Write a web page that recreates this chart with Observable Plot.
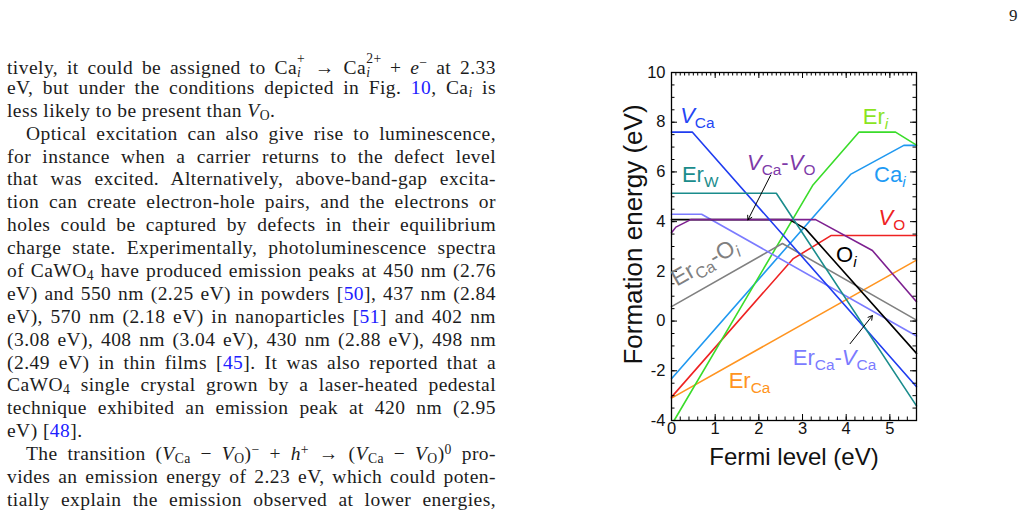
<!DOCTYPE html>
<html>
<head>
<meta charset="utf-8">
<script src="https://cdn.jsdelivr.net/npm/d3@7"></script>
<script src="https://cdn.jsdelivr.net/npm/@observablehq/plot@0.6"></script>
<style>
  html, body { margin: 0; padding: 0; background: #fff; }
  body { width: 1029px; height: 511px; position: relative; overflow: hidden; }
  #pageno { position: absolute; left: 1009px; top: 6px; font: 17px "Liberation Serif", serif; color: #222; }
  #col { position: absolute; left: 7px; top: 54px; width: 489px;
         font: 19.5px/22.9px "Liberation Serif", "Times New Roman", serif; letter-spacing: 0.45px; color: #1c1c1c; }
  #col .l { text-align: justify; text-align-last: justify; height: 22.9px; white-space: nowrap; }
  #col .last { text-align-last: left; }
  #col .ind { text-indent: 19px; }
  #col .r { color: #2020ff; }
  #col sub, #col sup { font-size: 0.7em; line-height: 0; }
  #col sub { vertical-align: -0.25em; }
  #col sup { vertical-align: 0.45em; }
  #col .ss { display: inline-block; position: relative; height: 19.5px; text-indent: 0; }
  #col .ss span { position: absolute; left: 0; font-size: 0.7em; line-height: 1; }
  #col .ss .up { top: -2px; }
  #col .ss .dn { top: 11.5px; }
  #fig { position: absolute; left: 560px; top: 30px; }
</style>
</head>
<body>
<div id="pageno">9</div>
<div id="col">
  <div class="l">tively, it could be assigned to Ca<span class="ss" style="width:9px"><span class="up">+</span><span class="dn"><i>i</i></span></span> → Ca<span class="ss" style="width:15px"><span class="up">2+</span><span class="dn"><i>i</i></span></span> + <i>e</i><sup>−</sup> at 2.33</div>
  <div class="l">eV, but under the conditions depicted in Fig. <span class="r">10</span>, Ca<sub><i>i</i></sub> is</div>
  <div class="l last">less likely to be present than <i>V</i><sub>O</sub>.</div>
  <div class="l ind">Optical excitation can also give rise to luminescence,</div>
  <div class="l">for instance when a carrier returns to the defect level</div>
  <div class="l">that was excited. Alternatively, above-band-gap excita-</div>
  <div class="l">tion can create electron-hole pairs, and the electrons or</div>
  <div class="l">holes could be captured by defects in their equilibrium</div>
  <div class="l">charge state. Experimentally, photoluminescence spectra</div>
  <div class="l">of CaWO<sub>4</sub> have produced emission peaks at 450 nm (2.76</div>
  <div class="l">eV) and 550 nm (2.25 eV) in powders [<span class="r">50</span>], 437 nm (2.84</div>
  <div class="l">eV), 570 nm (2.18 eV) in nanoparticles [<span class="r">51</span>] and 402 nm</div>
  <div class="l">(3.08 eV), 408 nm (3.04 eV), 430 nm (2.88 eV), 498 nm</div>
  <div class="l">(2.49 eV) in thin films [<span class="r">45</span>]. It was also reported that a</div>
  <div class="l">CaWO<sub>4</sub> single crystal grown by a laser-heated pedestal</div>
  <div class="l">technique exhibited an emission peak at 420 nm (2.95</div>
  <div class="l last">eV) [<span class="r">48</span>].</div>
  <div class="l ind">The transition (<i>V</i><sub>Ca</sub> − <i>V</i><sub>O</sub>)<sup>−</sup> + <i>h</i><sup>+</sup> → (<i>V</i><sub>Ca</sub> − <i>V</i><sub>O</sub>)<sup>0</sup> pro-</div>
  <div class="l">vides an emission energy of 2.23 eV, which could poten-</div>
  <div class="l">tially explain the emission observed at lower energies,</div>
</div>
<div id="fig"></div>
<script>
// Axis ticks
const xTicks = [0, 1, 2, 3, 4, 5];
const yTicks = [-4, -2, 0, 2, 4, 6, 8, 10];
const xMinorBottom = d3.range(0, 5.6, 0.2);
const xMinorTop = d3.range(0, 5.6, 0.1);
const yMinor = d3.range(-4, 10.01, 0.5);

// Formation energy (eV) versus Fermi level (eV), one polyline per defect
const fermiErCa = [0, 5.61];
const energyErCa = [-3.1, 2.45];

const fermiCai = [0, 4.10, 5.32, 5.61];
const energyCai = [-2.32, 5.90, 7.07, 7.07];

const fermiVO = [0, 2.78, 3.65, 5.61];
const energyVO = [-3.06, 2.50, 3.44, 3.44];

const fermiEri = [0.06, 3.23, 4.29, 5.13, 5.61];
const energyEri = [-4.0, 5.45, 7.60, 7.60, 7.08];

const fermiErCaOi = [0, 2.54, 5.61];
const energyErCaOi = [0.58, 3.12, 0.04];

const fermiErCaVCa = [0, 0.69, 5.61];
const energyErCaVCa = [4.30, 4.30, -0.60];

const fermiOi = [0, 2.70, 3.07, 5.61];
const energyOi = [4.08, 4.08, 3.71, -1.30];

const fermiVCaVO = [0, 0.10, 0.44, 3.30, 4.60, 5.61];
const energyVCaVO = [3.55, 3.78, 4.08, 4.08, 2.84, 0.78];

const fermiVCa = [0, 0.48, 5.61];
const energyVCa = [7.60, 7.60, -2.64];

const fermiErW = [0, 2.40, 5.61];
const energyErW = [5.14, 5.14, -3.41];

const defectNames = ["Er_Ca", "Ca_i", "V_O", "Er_i", "Er_Ca-O_i", "Er_Ca-V_Ca", "O_i", "V_Ca-V_O", "V_Ca", "Er_W"];
const lineColors  = ["#ff9420", "#1f98f0", "#ee2222", "#3adc2a", "#808080", "#7b7bff", "#000000", "#7d2090", "#1f3cf0", "#1a8c8c"];

const seriesList = [
  ["Er_Ca", fermiErCa, energyErCa],
  ["Ca_i", fermiCai, energyCai],
  ["V_O", fermiVO, energyVO],
  ["Er_i", fermiEri, energyEri],
  ["Er_Ca-O_i", fermiErCaOi, energyErCaOi],
  ["Er_Ca-V_Ca", fermiErCaVCa, energyErCaVCa],
  ["O_i", fermiOi, energyOi],
  ["V_Ca-V_O", fermiVCaVO, energyVCaVO],
  ["V_Ca", fermiVCa, energyVCa],
  ["Er_W", fermiErW, energyErW]
];
const rows = seriesList.flatMap(([name, xs, ys]) => xs.map((x, i) => ({name, E: x, F: ys[i]})));

// Pointer arrows from labels to their curves
const arrowFrom = [[2.27, 5.87], [4.09, -0.91]];
const arrowTo = [[1.75, 4.07], [4.60, 0.22]];
const arrows = arrowFrom.map((a, i) => ({x1: a[0], y1: a[1], x2: arrowTo[i][0], y2: arrowTo[i][1]}));

// Curve labels: [text, kind] where kind "i" italic, "s" subscript, "si" italic subscript
const labels = [
  {E: 0.21, F: 7.93, color: "#2546f5", parts: [["V", "i"], ["Ca", "s"]]},
  {E: 0.25, F: 5.59, color: "#1a8c8c", parts: [["Er", ""], ["W", "s"]]},
  {E: 1.74, F: 6.06, color: "#7e3aa8", parts: [["V", "i"], ["Ca", "s"], ["-", ""], ["V", "i"], ["O", "s"]]},
  {E: 4.39, F: 7.91, color: "#8be41f", parts: [["Er", ""], ["i", "si"]]},
  {E: 4.65, F: 5.59, color: "#1f9bf5", parts: [["Ca", ""], ["i", "si"]]},
  {E: 4.75, F: 3.84, color: "#ee2222", parts: [["V", "i"], ["O", "s"]]},
  {E: 3.78, F: 2.37, color: "#000000", parts: [["O", ""], ["i", "si"]]},
  {E: 0.13, F: 1.36, color: "#808080", slope: 1, parts: [["Er", ""], ["Ca", "s"], ["-O", ""], ["i", "si"]]},
  {E: 2.79, F: -1.79, color: "#7b7bff", parts: [["Er", ""], ["Ca", "s"], ["-", ""], ["V", "i"], ["Ca", "s"]]},
  {E: 1.32, F: -2.72, color: "#ff9420", parts: [["Er", ""], ["Ca", "s"]]}
];

const W = 380, H = 470, mL = 111, mR = 24, mT = 42, mB = 80;
const innerH = H - mT - mB, innerW = W - mL - mR;
const major = 6, minor = 3.5;

const chart = Plot.plot({
  width: W, height: H,
  marginLeft: mL, marginRight: mR, marginTop: mT, marginBottom: mB,
  x: {domain: [0, 5.61]},
  y: {domain: [-4, 10]},
  color: {domain: defectNames, range: lineColors},
  style: {fontFamily: '"Liberation Sans", Arial, sans-serif', fontSize: "16.5px", color: "#111", background: "transparent", overflow: "visible"},
  marks: [
    Plot.line(rows, {x: "E", y: "F", z: "name", stroke: "name", strokeWidth: 1.6, strokeLinejoin: "round"}),
    Plot.arrow(arrows, {x1: "x1", y1: "y1", x2: "x2", y2: "y2", stroke: "black", strokeWidth: 1, headLength: 7}),
    // inward ticks on all four sides
    Plot.tickX(xMinorBottom, {x: d => d, insetTop: innerH - minor, stroke: "black"}),
    Plot.tickX(xTicks, {x: d => d, insetTop: innerH - major, stroke: "black"}),
    Plot.tickX(xMinorTop, {x: d => d, insetBottom: innerH - minor, stroke: "black"}),
    Plot.tickX(xTicks, {x: d => d, insetBottom: innerH - major, stroke: "black"}),
    Plot.tickY(yMinor, {y: d => d, insetRight: innerW - minor, stroke: "black"}),
    Plot.tickY(yTicks, {y: d => d, insetRight: innerW - major, stroke: "black"}),
    Plot.tickY(yMinor, {y: d => d, insetLeft: innerW - minor, stroke: "black"}),
    Plot.tickY(yTicks, {y: d => d, insetLeft: innerW - major, stroke: "black"}),
    Plot.axisX({ticks: xTicks, tickSize: 0, tickPadding: 2, label: null, tickFormat: d => String(d)}),
    Plot.axisY({ticks: yTicks, tickSize: 0, tickPadding: 6, label: null, tickFormat: d => String(d)}),
    Plot.frame({stroke: "black", strokeWidth: 1.3}),
    Plot.text(["Fermi level (eV)"], {text: d => d, frameAnchor: "bottom", dy: 44, fontSize: 24, fill: "#111", textAnchor: "middle"}),
    Plot.text(["Formation energy (eV)"], {text: d => d, frameAnchor: "left", rotate: -90, dx: -38, dy: -12, fontSize: 26, fill: "#111", textAnchor: "middle"})
  ]
});

// Curve labels with sub/italic runs, placed through the chart's scales
const sx = chart.scale("x"), sy = chart.scale("y");
const svg = d3.select(chart);
const unitAngle = Math.atan2(sy.apply(1) - sy.apply(0), sx.apply(1) - sx.apply(0)) * 180 / Math.PI;
for (const lab of labels) {
  const px = sx.apply(lab.E), py = sy.apply(lab.F);
  const t = svg.append("text")
    .attr("x", px).attr("y", py)
    .attr("text-anchor", "start")
    .attr("fill", lab.color)
    .attr("font-size", lab.slope ? 23 : 22)
    .attr("font-family", '"Liberation Sans", Arial, sans-serif');
  if (lab.slope) t.attr("transform", `rotate(${unitAngle * lab.slope},${px},${py})`);
  let shift = 0;
  for (const [s, kind] of lab.parts) {
    const sub = kind.startsWith("s");
    const target = sub ? 5 : 0;
    const ts = t.append("tspan").text(s).attr("dy", target - shift);
    shift = target;
    if (sub) ts.attr("font-size", "0.7em");
    if (kind.endsWith("i")) ts.attr("font-style", "italic");
  }
}

document.getElementById("fig").appendChild(chart);
</script>
</body>
</html>
